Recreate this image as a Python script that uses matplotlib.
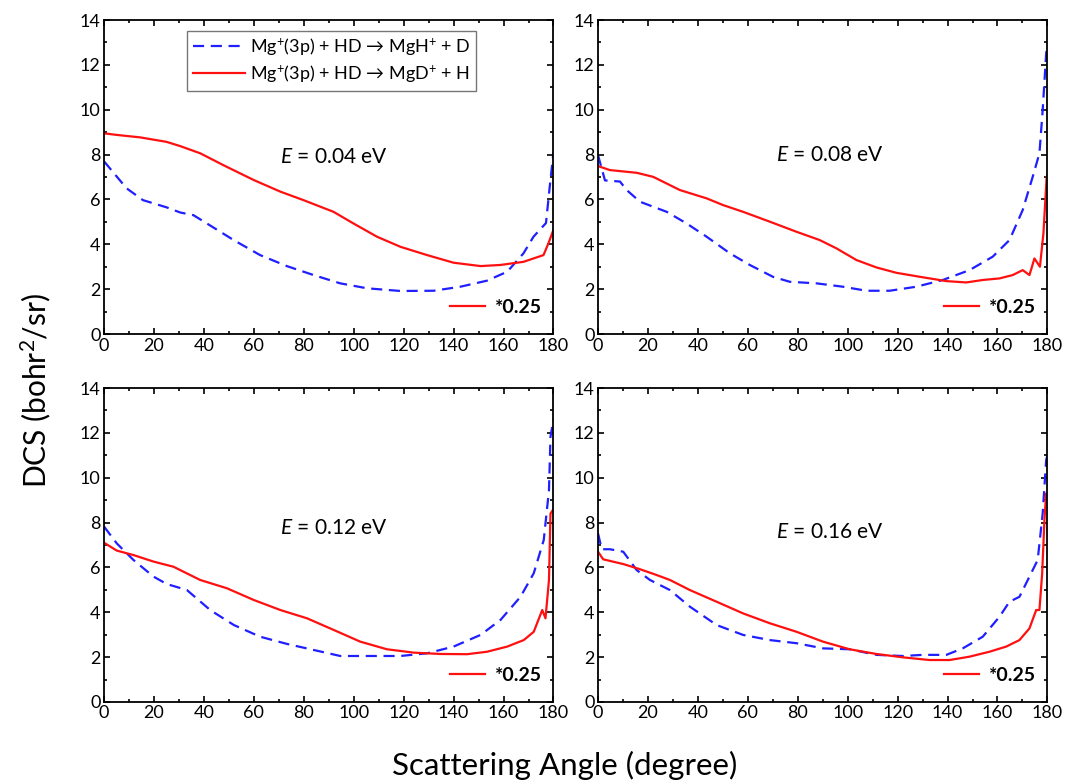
import numpy as np
import matplotlib
matplotlib.use('Agg')
import matplotlib.pyplot as plt
from matplotlib.lines import Line2D

plt.rcParams['font.family'] = ['Lato', 'DejaVu Sans']
plt.rcParams['mathtext.fontset'] = 'custom'
plt.rcParams['mathtext.rm'] = 'Lato'
plt.rcParams['mathtext.it'] = 'Lato:italic'

# 에너지별 라벨
energies = ['0.04', '0.08', '0.12', '0.16']

# MgH+ + D 채널 (파란 점선)
h_ang_1 = [0, 9, 15.6, 25, 30.5, 35.8, 41.2, 51.9, 62.5, 73.2, 83.9, 94.6, 105.3, 118.7, 132, 142.7, 153.4, 161.5, 168, 172, 177, 178.5, 180]
h_dcs_1 = [7.7, 6.5, 5.97, 5.65, 5.42, 5.3, 4.93, 4.19, 3.52, 3.03, 2.63, 2.26, 2.04, 1.92, 1.93, 2.11, 2.38, 2.78, 3.6, 4.34, 4.95, 6.57, 8.1]
h_ang_2 = [0, 2.8, 8.8, 11.5, 16.8, 27.5, 35.5, 43.5, 52.8, 60.8, 70.1, 76.8, 87.5, 98.1, 107.5, 116.8, 127.5, 138.1, 148.8, 158.1, 164.8, 170.1, 174.1, 176.8, 178.1, 179.5, 180]
h_dcs_2 = [7.98, 6.85, 6.8, 6.42, 5.9, 5.45, 4.93, 4.34, 3.6, 3.08, 2.55, 2.33, 2.26, 2.11, 1.93, 1.93, 2.11, 2.41, 2.85, 3.45, 4.19, 5.53, 7.01, 8.06, 9.99, 12.51, 13.0]
h_ang_3 = [0, 5.1, 11.8, 19.8, 25.1, 33.2, 42.5, 52, 62.5, 73.2, 83.9, 94.6, 105.3, 118.7, 129.4, 140, 150.8, 158.8, 166.8, 172.1, 176.1, 178.2, 178.8, 180]
h_dcs_3 = [7.82, 7.07, 6.33, 5.59, 5.26, 4.99, 4.1, 3.43, 2.91, 2.59, 2.32, 2.05, 2.05, 2.05, 2.17, 2.47, 2.99, 3.66, 4.69, 5.74, 7.22, 9.45, 11.83, 12.6]
h_ang_4 = [0, 1.5, 4.8, 10.1, 15.5, 20.8, 28.8, 36.8, 47.5, 58.1, 68.8, 79.5, 90.1, 100.8, 111.5, 122.1, 130.1, 139.5, 146.1, 154.1, 160.8, 164.8, 168.8, 172.8, 176.1, 178.1, 179.5, 180]
h_dcs_4 = [7.52, 6.81, 6.81, 6.7, 5.88, 5.44, 4.99, 4.25, 3.43, 2.99, 2.76, 2.62, 2.39, 2.35, 2.1, 2.05, 2.1, 2.1, 2.39, 2.91, 3.8, 4.47, 4.69, 5.59, 6.33, 8.41, 10.79, 11.0]

# MgD+ + H 채널 (빨간 실선, *0.25)
d_ang_1 = [0, 5, 14.4, 25, 30.5, 38.5, 47.8, 59.9, 70.6, 79.9, 91.9, 99.9, 109.3, 118.7, 129.4, 140, 150.8, 158.8, 168, 176, 178, 180]
d_dcs_1 = [8.95, 8.88, 8.77, 8.57, 8.38, 8.06, 7.53, 6.87, 6.35, 5.97, 5.45, 4.93, 4.34, 3.89, 3.52, 3.18, 3.03, 3.08, 3.22, 3.52, 4.05, 4.65]
d_ang_2 = [0, 4.8, 15.5, 22.1, 32.8, 43.5, 50.1, 58.1, 68.8, 79.5, 88.8, 95.5, 103.5, 111.5, 119.5, 130.1, 139.5, 147.5, 154.1, 160.8, 166.1, 170.1, 172.8, 174.8, 177, 178.4, 179.7, 180]
d_dcs_2 = [7.49, 7.31, 7.19, 7.01, 6.42, 6.05, 5.75, 5.45, 5.01, 4.56, 4.19, 3.82, 3.3, 2.97, 2.73, 2.53, 2.36, 2.3, 2.41, 2.48, 2.63, 2.85, 2.63, 3.37, 3.0, 4.49, 7.01, 7.1]
d_ang_3 = [0, 5.1, 11.8, 19.8, 27.8, 38.5, 49.2, 59.9, 70.6, 81.3, 92, 102.6, 113.3, 124, 134.7, 145.4, 153.4, 161.5, 168.1, 172.1, 175.5, 176.8, 178.2, 178.8, 180]
d_dcs_3 = [7.1, 6.75, 6.55, 6.26, 6.03, 5.44, 5.07, 4.55, 4.1, 3.73, 3.21, 2.69, 2.35, 2.2, 2.14, 2.13, 2.24, 2.47, 2.76, 3.13, 4.1, 3.73, 5.44, 8.4, 8.6]
d_ang_4 = [0, 2.1, 10.1, 16.8, 23.5, 28.8, 36.8, 47.5, 58.1, 68.8, 79.5, 90.1, 100.8, 111.5, 122.1, 132.8, 140.8, 148.8, 156.8, 163.5, 168.8, 172.8, 175.5, 176.8, 177.9, 178.8, 179.5, 180]
d_dcs_4 = [6.7, 6.36, 6.15, 5.92, 5.66, 5.44, 4.99, 4.47, 3.95, 3.51, 3.13, 2.69, 2.35, 2.14, 1.99, 1.87, 1.87, 2.02, 2.24, 2.47, 2.76, 3.28, 4.1, 4.1, 5.74, 8.11, 9.3, 9.2]

h_data = [(h_ang_1, h_dcs_1), (h_ang_2, h_dcs_2), (h_ang_3, h_dcs_3), (h_ang_4, h_dcs_4)]
d_data = [(d_ang_1, d_dcs_1), (d_ang_2, d_dcs_2), (d_ang_3, d_dcs_3), (d_ang_4, d_dcs_4)]

label_h = 'Mg$^{+}$(3p) + HD → MgH$^{+}$ + D'
label_d = 'Mg$^{+}$(3p) + HD → MgD$^{+}$ + H'

fig = plt.figure(figsize=(10.65, 7.81), dpi=100)

# 패널 위치 (figure 좌표)
lefts = [0.0977, 0.5615, 0.0977, 0.5615]
bottoms = [0.5723, 0.5723, 0.1012, 0.1012]
text_pos = [(92, 7.9), (93, 8.0), (92, 7.76), (92.8, 7.6)]

for i in range(4):
    ax = fig.add_axes([lefts[i], bottoms[i], 0.422, 0.402])
    hx, hy = h_data[i]
    dx, dy = d_data[i]
    lh, = ax.plot(hx, hy, color='#1f1fff', lw=1.6, ls=(0, (5, 3)))
    ld, = ax.plot(dx, dy, color='#ff1010', lw=1.6)

    ax.set_xlim(0, 180)
    ax.set_ylim(0, 14)
    ax.set_xticks(np.arange(0, 181, 20))
    ax.set_xticks(np.arange(0, 181, 10), minor=True)
    ax.set_yticks(np.arange(0, 15, 2))
    ax.set_yticks(np.arange(0, 15, 1), minor=True)
    ax.tick_params(which='both', direction='in', top=True, right=True, width=1.2, labelsize=13, pad=2.5)
    ax.tick_params(which='major', length=4)
    ax.tick_params(which='minor', length=2.5)
    for sp in ax.spines.values():
        sp.set_linewidth(1.3)

    ax.text(text_pos[i][0], text_pos[i][1], '$E$ = ' + energies[i] + ' eV',
            ha='center', va='center', fontsize=15)

    small = ax.legend([Line2D([], [], color='#ff1010', lw=1.6)], ['*0.25'],
                      loc='center right', bbox_to_anchor=(1.0, 0.085), frameon=False,
                      prop={'weight': 'bold', 'size': 14}, handlelength=1.8,
                      handletextpad=0.5, borderaxespad=0.2)
    if i == 0:
        ax.add_artist(small)
        leg = ax.legend([lh, ld], [label_h, label_d], loc='upper left',
                        bbox_to_anchor=(0.185, 0.965), fancybox=False,
                        edgecolor='#555555', fontsize=13, handlelength=2.9,
                        handletextpad=0.3, borderpad=0.3, labelspacing=0.3,
                        borderaxespad=0)
        leg.get_frame().set_linewidth(1.0)

fig.text(0.033, 0.5, 'DCS (bohr$^{2}$/sr)', rotation=90, ha='center', va='center', fontsize=21.5)
fig.text(0.53, 0.02, 'Scattering Angle (degree)', ha='center', va='center', fontsize=22.5)

plt.savefig('out.png', dpi=100)
